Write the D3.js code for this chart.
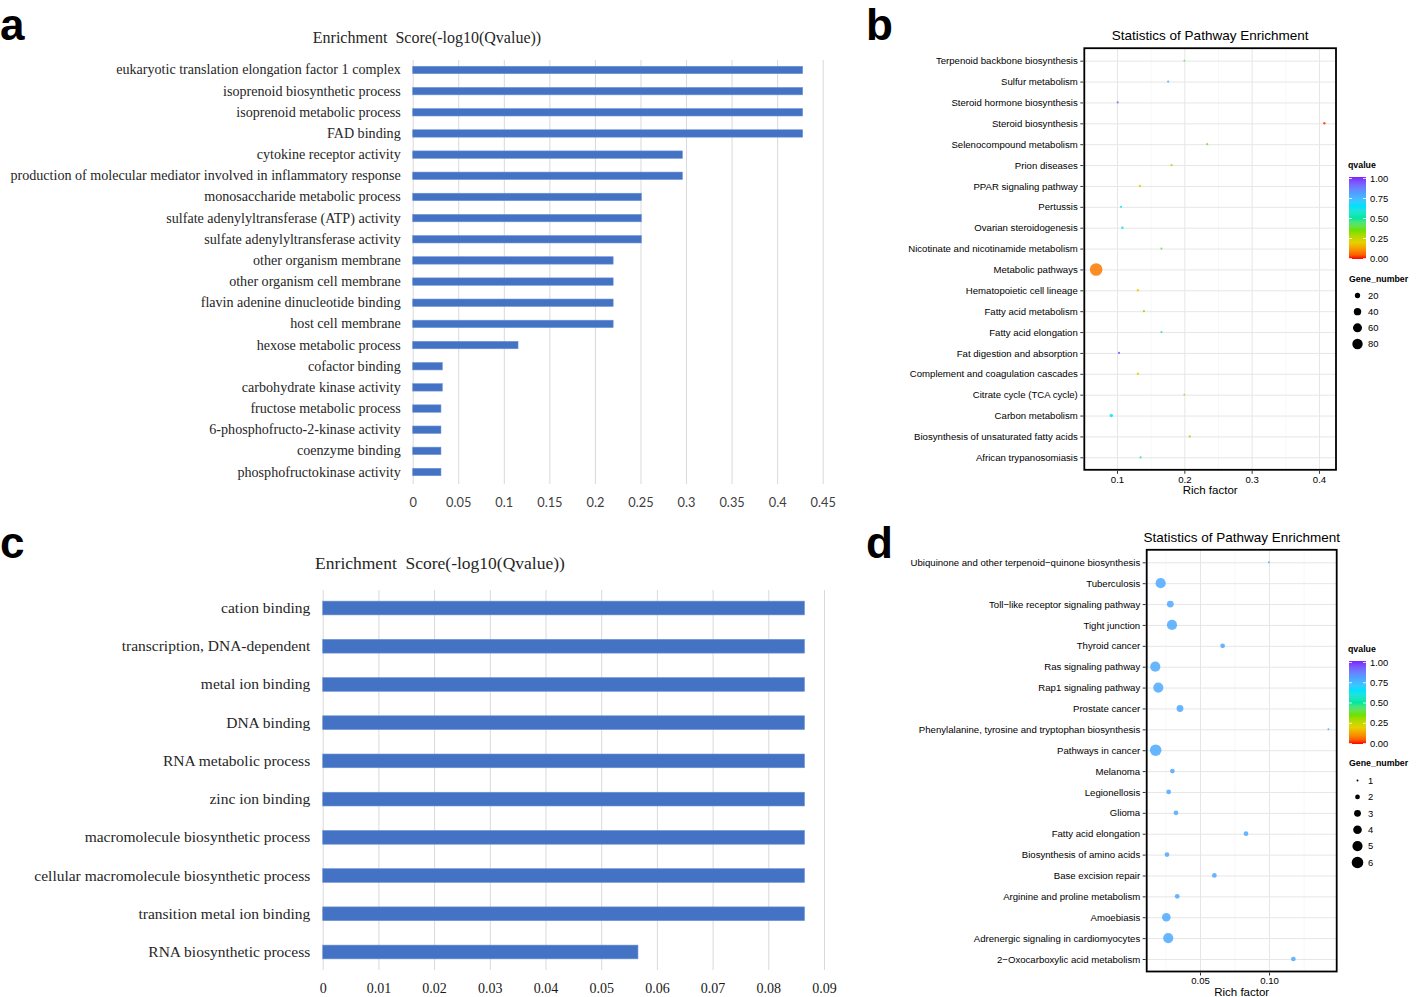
<!DOCTYPE html>
<html>
<head>
<meta charset="utf-8">
<script src="https://cdn.jsdelivr.net/npm/d3@7"></script>
<style>
body{margin:0;background:#fff;}
svg{display:block;}
</style>
</head>
<body>
<div id="container"></div>
<script>
// panel a - GO terms
const aTerms = ["eukaryotic translation elongation factor 1 complex","isoprenoid biosynthetic process","isoprenoid metabolic process","FAD binding","cytokine receptor activity","production of molecular mediator involved in inflammatory response","monosaccharide metabolic process","sulfate adenylyltransferase (ATP) activity","sulfate adenylyltransferase activity","other organism membrane","other organism cell membrane","flavin adenine dinucleotide binding","host cell membrane","hexose metabolic process","cofactor binding","carbohydrate kinase activity","fructose metabolic process","6-phosphofructo-2-kinase activity","coenzyme binding","phosphofructokinase activity"];
const aScores = [0.428,0.428,0.428,0.428,0.296,0.296,0.251,0.251,0.251,0.220,0.220,0.220,0.220,0.1156,0.0325,0.0325,0.031,0.031,0.031,0.031];
const aTicks = [0,0.05,0.1,0.15,0.2,0.25,0.3,0.35,0.4,0.45];

// panel c - GO terms
const cTerms = ["cation binding","transcription, DNA-dependent","metal ion binding","DNA binding","RNA metabolic process","zinc ion binding","macromolecule biosynthetic process","cellular macromolecule biosynthetic process","transition metal ion binding","RNA biosynthetic process"];
const cScores = [0.0865,0.0865,0.0865,0.0865,0.0865,0.0865,0.0865,0.0865,0.0865,0.0566];
const cTicks = [0,0.01,0.02,0.03,0.04,0.05,0.06,0.07,0.08,0.09];

// panel b - KEGG
const bPathways = ["Terpenoid backbone biosynthesis","Sulfur metabolism","Steroid hormone biosynthesis","Steroid biosynthesis","Selenocompound metabolism","Prion diseases","PPAR signaling pathway","Pertussis","Ovarian steroidogenesis","Nicotinate and nicotinamide metabolism","Metabolic pathways","Hematopoietic cell lineage","Fatty acid metabolism","Fatty acid elongation","Fat digestion and absorption","Complement and coagulation cascades","Citrate cycle (TCA cycle)","Carbon metabolism","Biosynthesis of unsaturated fatty acids","African trypanosomiasis"];
const bRich = [0.200,0.176,0.101,0.408,0.234,0.181,0.134,0.106,0.108,0.166,0.069,0.131,0.140,0.166,0.103,0.131,0.200,0.0915,0.208,0.135];
const bQvalue = [0.40,0.78,0.88,0.02,0.38,0.30,0.20,0.63,0.63,0.40,0.08,0.20,0.33,0.55,0.95,0.20,0.30,0.63,0.30,0.55];
const bGenes = [2,3,3,4,3,3,4,3,4,3,118,4,3,3,3,4,2,8,3,3];
const bTicks = [0.1,0.2,0.3,0.4];
const bMinor = [0.15,0.25,0.35];
const bLegendGenes = [20,40,60,80];

// panel d - KEGG
const dPathways = ["Ubiquinone and other terpenoid\u2212quinone biosynthesis","Tuberculosis","Toll\u2212like receptor signaling pathway","Tight junction","Thyroid cancer","Ras signaling pathway","Rap1 signaling pathway","Prostate cancer","Phenylalanine, tyrosine and tryptophan biosynthesis","Pathways in cancer","Melanoma","Legionellosis","Glioma","Fatty acid elongation","Biosynthesis of amino acids","Base excision repair","Arginine and proline metabolism","Amoebiasis","Adrenergic signaling in cardiomyocytes","2\u2212Oxocarboxylic acid metabolism"];
const dRich = [0.0999,0.0215,0.0285,0.0297,0.0664,0.0176,0.0198,0.0355,0.143,0.0179,0.030,0.0273,0.0326,0.0833,0.0261,0.0604,0.0335,0.0256,0.027,0.1176];
const dQvalue = [0.78,0.78,0.78,0.78,0.78,0.78,0.78,0.78,0.78,0.78,0.78,0.78,0.78,0.78,0.78,0.78,0.78,0.78,0.78,0.78];
const dGenes = [1,5,3,5,2,5,5,3,1,6,2,2,2,2,2,2,2,4,5,2];
const dTicks = [0.05,0.10];
const dMinor = [0.025,0.075,0.125];
const dLegendGenes = [1,2,3,4,5,6];

const qStops = [0,0.2,0.35,0.5,0.65,0.8,1];
const qColours = ["#ff0000","#e8d000","#70e000","#00e8a0","#00e0ff","#50a0ff","#8020ff"];
const legendTicks = [0,0.25,0.5,0.75,1];

const SERIF = "'Liberation Serif','Times New Roman',serif";
const SANS = "'Liberation Sans',Arial,Helvetica,sans-serif";

const svg = d3.select("#container").append("svg")
    .attr("width",1416)
    .attr("height",997);

const qColour = d3.scaleLinear().domain(qStops).range(qColours).interpolate(d3.interpolateLab);

function barPanel(o){
    const g = svg.append("g");
    const x = d3.scaleLinear().domain([0,o.ticks[o.ticks.length-1]]).range([o.x0,o.x1]);
    const y = d3.scaleBand().domain(o.terms).range([o.y0,o.y1]).paddingInner(o.pad).paddingOuter(o.pad/2);

    // grid
    const grid = g.append("g")
        .attr("transform","translate(0,"+o.gridBot+")")
        .call(d3.axisBottom(x).tickValues(o.ticks).tickSize(-(o.gridBot-o.gridTop)).tickFormat(""));
    grid.select(".domain").remove();
    grid.selectAll("line").attr("stroke","#d9d9d9").attr("stroke-width",1);

    g.selectAll("rect.bar")
        .data(o.scores)
        .enter()
        .append("rect")
        .attr("class","bar")
        .attr("x",x(0))
        .attr("y",(d,i) => y(o.terms[i]))
        .attr("width",d => x(d)-x(0))
        .attr("height",y.bandwidth())
        .attr("fill","#4472c4")
        .attr("stroke","#6f93d3")
        .attr("stroke-width",0.6);

    const yAxis = g.append("g")
        .attr("transform","translate("+x(0)+",0)")
        .call(d3.axisLeft(y).tickSize(0).tickPadding(o.labelPad));
    yAxis.select(".domain").remove();
    yAxis.selectAll("text").attr("font-family",SERIF).attr("font-size",o.labelSize).attr("fill","#262626");

    const xAxis = g.append("g")
        .attr("transform","translate(0,"+o.gridBot+")")
        .call(d3.axisBottom(x).tickValues(o.ticks).tickSize(0).tickPadding(o.tickPad).tickFormat(d => String(d)));
    xAxis.select(".domain").remove();
    xAxis.selectAll("text").attr("font-family",o.tickFont).attr("font-size",o.tickSize).attr("fill",o.tickColour);

    g.append("text")
        .text("Enrichment\u00a0 Score(-log10(Qvalue))")
        .attr("x",o.titleX)
        .attr("y",o.titleY)
        .attr("text-anchor","middle")
        .attr("font-family",SERIF)
        .attr("font-size",o.titleSize)
        .attr("fill","#262626");
}

function dotPanel(o){
    const g = svg.append("g");
    const x = d3.scaleLinear().domain(o.xDomain).range([o.left,o.right]);
    const y = d3.scalePoint().domain(o.names).range([o.firstRow,o.lastRow]);
    const rs = d3.scaleLinear().domain([Math.sqrt(o.geneRange[0]),Math.sqrt(o.geneRange[1])]).range(o.rRange);
    const r = n => rs(Math.sqrt(n));

    g.append("rect")
        .attr("x",o.left).attr("y",o.top)
        .attr("width",o.right-o.left).attr("height",o.bottom-o.top)
        .attr("fill","#fff");

    const minor = g.append("g")
        .attr("transform","translate(0,"+o.bottom+")")
        .call(d3.axisBottom(x).tickValues(o.minor).tickSize(-(o.bottom-o.top)).tickFormat(""));
    minor.select(".domain").remove();
    minor.selectAll("line").attr("stroke","#f2f2f2").attr("stroke-width",0.6);

    const major = g.append("g")
        .attr("transform","translate(0,"+o.bottom+")")
        .call(d3.axisBottom(x).tickValues(o.ticks).tickSize(-(o.bottom-o.top)).tickFormat(""));
    major.select(".domain").remove();
    major.selectAll("line").attr("stroke","#e6e6e6").attr("stroke-width",1);

    const hGrid = g.append("g")
        .attr("transform","translate("+o.left+",0)")
        .call(d3.axisLeft(y).tickSize(-(o.right-o.left)).tickFormat(""));
    hGrid.select(".domain").remove();
    hGrid.selectAll("line").attr("stroke","#e6e6e6").attr("stroke-width",1);

    g.selectAll("circle.dot")
        .data(o.rich)
        .enter()
        .append("circle")
        .attr("class","dot")
        .attr("cx",d => x(d))
        .attr("cy",(d,i) => y(o.names[i]))
        .attr("r",(d,i) => r(o.genes[i]))
        .attr("fill",(d,i) => qColour(o.q[i]))
        .attr("fill-opacity",o.alpha);

    g.append("rect")
        .attr("x",o.left).attr("y",o.top)
        .attr("width",o.right-o.left).attr("height",o.bottom-o.top)
        .attr("fill","none")
        .attr("stroke","#000")
        .attr("stroke-width",1.8);

    const yAxis = g.append("g")
        .attr("transform","translate("+(o.left-1)+",0)")
        .call(d3.axisLeft(y).tickSize(3).tickPadding(2.5));
    yAxis.select(".domain").remove();
    yAxis.selectAll("line").attr("stroke","#333").attr("stroke-width",1);
    yAxis.selectAll("text").attr("font-family",SANS).attr("font-size",9.6).attr("fill","#000");

    const xAxis = g.append("g")
        .attr("transform","translate(0,"+(o.bottom+1)+")")
        .call(d3.axisBottom(x).tickValues(o.ticks).tickSize(3).tickPadding(2).tickFormat(o.fmt));
    xAxis.select(".domain").remove();
    xAxis.selectAll("line").attr("stroke","#333");
    xAxis.selectAll("text").attr("font-family",SANS).attr("font-size",9.6).attr("fill","#000");

    g.append("text")
        .text("Rich factor")
        .attr("x",(o.left+o.right)/2)
        .attr("y",o.bottom+24)
        .attr("text-anchor","middle")
        .attr("font-family",SANS)
        .attr("font-size",11.5);

    g.append("text")
        .text("Statistics of Pathway Enrichment")
        .attr("x",(o.left+o.right)/2)
        .attr("y",o.top-8)
        .attr("text-anchor","middle")
        .attr("font-family",SANS)
        .attr("font-size",13.5);

    // legend: qvalue colourbar
    const lg = g.append("g");
    const gradId = "grad"+o.id;
    const grad = svg.append("defs").append("linearGradient")
        .attr("id",gradId)
        .attr("x1",0).attr("y1",1).attr("x2",0).attr("y2",0);
    grad.selectAll("stop")
        .data(d3.range(0,1.0001,0.05))
        .enter()
        .append("stop")
        .attr("offset",d => d)
        .attr("stop-color",d => qColour(d));

    lg.append("text").text("qvalue")
        .attr("x",1348).attr("y",o.legTop-9)
        .attr("font-family",SANS).attr("font-size",8.8).attr("font-weight","bold");
    lg.append("rect")
        .attr("x",1349).attr("y",o.legTop)
        .attr("width",17).attr("height",o.legBot-o.legTop)
        .attr("fill","url(#"+gradId+")");
    const qs = d3.scaleLinear().domain([0,1]).range([o.legBot-1,o.legTop+1]);
    const tickW = lg.append("g")
        .attr("transform","translate(1349,0)")
        .call(d3.axisRight(qs).tickValues(legendTicks).tickSize(3).tickFormat(""));
    tickW.select(".domain").remove();
    tickW.selectAll("line").attr("stroke","#fff").attr("stroke-width",0.8);
    const tickE = lg.append("g")
        .attr("transform","translate(1366,0)")
        .call(d3.axisLeft(qs).tickValues(legendTicks).tickSize(3).tickFormat(""));
    tickE.select(".domain").remove();
    tickE.selectAll("line").attr("stroke","#fff").attr("stroke-width",0.8);
    const qLab = lg.append("g")
        .attr("transform","translate(1366,0)")
        .call(d3.axisRight(qs).tickValues(legendTicks).tickSize(0).tickPadding(4).tickFormat(d3.format(".2f")));
    qLab.select(".domain").remove();
    qLab.selectAll("text").attr("font-family",SANS).attr("font-size",9.4).attr("fill","#000");

    // legend: gene number sizes
    lg.append("text").text("Gene_number")
        .attr("x",1349).attr("y",o.sizeTitleY)
        .attr("font-family",SANS).attr("font-size",8.8).attr("font-weight","bold");
    const ls = d3.scalePoint().domain(o.legGenes).range(o.legSizeRange);
    lg.selectAll("circle.leg")
        .data(o.legGenes)
        .enter()
        .append("circle")
        .attr("class","leg")
        .attr("cx",1357.5)
        .attr("cy",d => ls(d))
        .attr("r",d => r(d))
        .attr("fill","#000");
    lg.selectAll("text.leg")
        .data(o.legGenes)
        .enter()
        .append("text")
        .attr("class","leg")
        .text(d => d)
        .attr("x",1368)
        .attr("y",d => ls(d))
        .attr("dy","0.35em")
        .attr("font-family",SANS)
        .attr("font-size",9.4)
        .attr("fill","#000");
}

barPanel({
    terms: aTerms, scores: aScores, ticks: aTicks,
    x0: 412.7, x1: 822.7, y0: 59.4, y1: 482.6, pad: 0.65,
    gridTop: 60, gridBot: 484,
    labelPad: 12, labelSize: 14.1,
    tickPad: 13.5, tickFont: "Lato,'Open Sans',sans-serif", tickSize: 12.8, tickColour: "#404040",
    titleX: 427, titleY: 43, titleSize: 16
});

barPanel({
    terms: cTerms, scores: cScores, ticks: cTicks,
    x0: 322.7, x1: 824, y0: 588.9, y1: 971.1, pad: 0.64,
    gridTop: 590, gridBot: 970,
    labelPad: 12.5, labelSize: 15.5,
    tickPad: 13.5, tickFont: SERIF, tickSize: 14, tickColour: "#1a1a1a",
    titleX: 440, titleY: 569, titleSize: 17.5
});

dotPanel({
    id: "b", names: bPathways, rich: bRich, q: bQvalue, genes: bGenes,
    left: 1084.3, right: 1336, top: 48.2, bottom: 469.8,
    firstRow: 60.7, lastRow: 457.3,
    xDomain: [0.0514,0.4253], ticks: bTicks, minor: bMinor, fmt: d3.format(".1f"),
    geneRange: [2,118], rRange: [0.9,6.3], alpha: 0.85,
    legTop: 177, legBot: 259, sizeTitleY: 282,
    legGenes: bLegendGenes, legSizeRange: [295.5,344]
});

dotPanel({
    id: "d", names: dPathways, rich: dRich, q: dQvalue, genes: dGenes,
    left: 1146.7, right: 1336.7, top: 549.8, bottom: 971.5,
    firstRow: 562.3, lastRow: 959,
    xDomain: [0.0114,0.149], ticks: dTicks, minor: dMinor, fmt: d3.format(".2f"),
    geneRange: [1,6], rRange: [1,5.8], alpha: 0.85,
    legTop: 661, legBot: 744, sizeTitleY: 766,
    legGenes: dLegendGenes, legSizeRange: [780.5,862.5]
});

// panel letters
const letters = [["a",0,40],["b",866,40],["c",0,558],["d",866,558]];
svg.selectAll("text.letter")
    .data(letters)
    .enter()
    .append("text")
    .attr("class","letter")
    .text(d => d[0])
    .attr("x",d => d[1])
    .attr("y",d => d[2])
    .attr("font-family",SANS)
    .attr("font-weight","bold")
    .attr("font-size",44);
</script>
</body>
</html>
